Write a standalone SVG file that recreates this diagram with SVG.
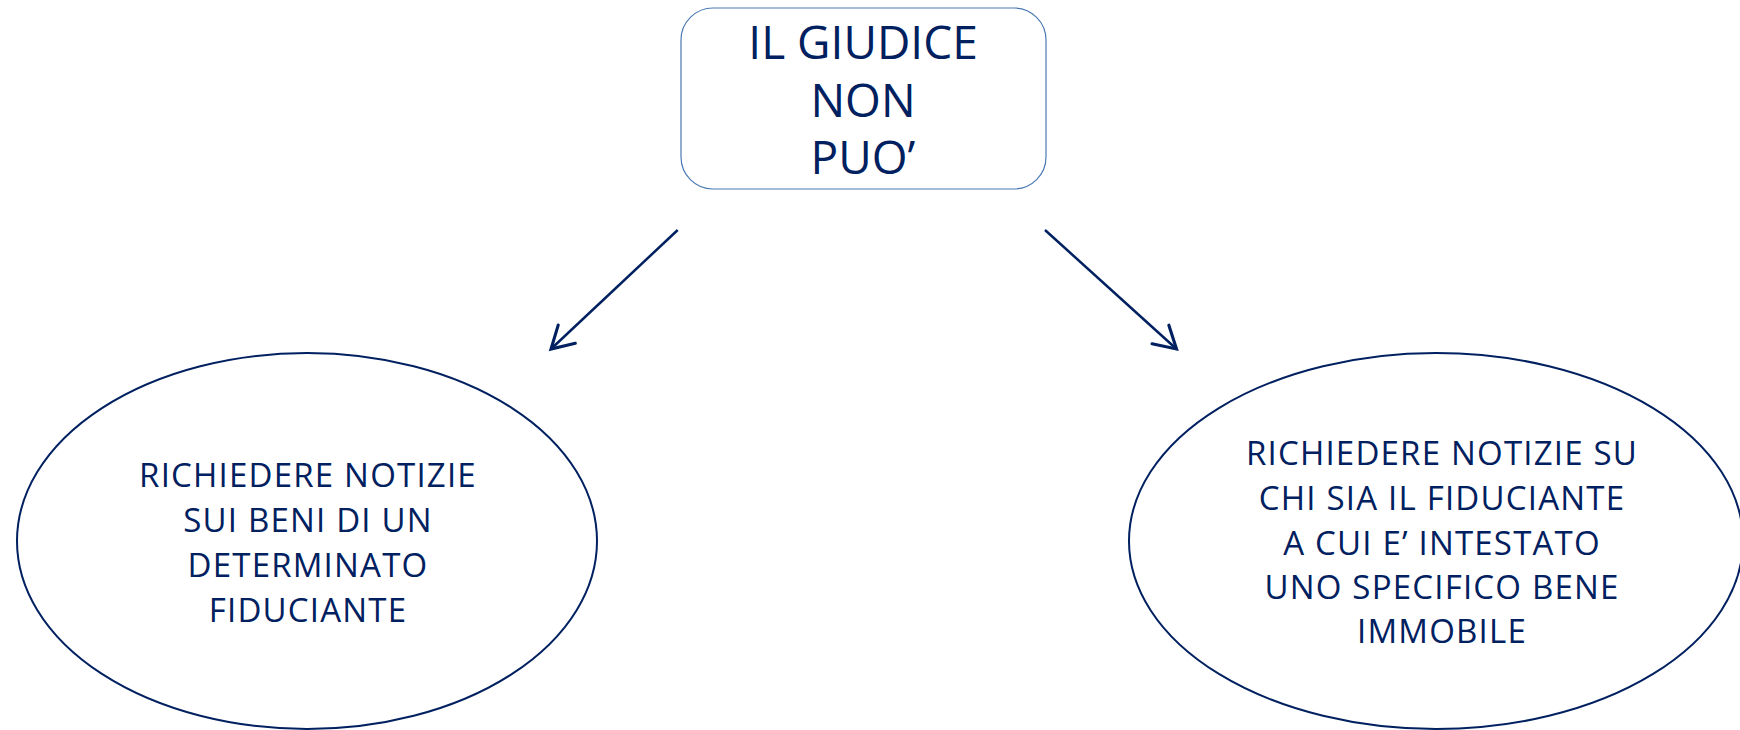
<svg xmlns="http://www.w3.org/2000/svg" width="1740" height="730" viewBox="0 0 1740 730">
  <defs>
    <style>
      .txt { font-family: "Open Sans", "Noto Sans", "Liberation Sans", sans-serif; fill: #002060; text-anchor: middle; }
      .big { font-size: 46px; }
      .mid { font-size: 33px; letter-spacing: 1.2px; }
      .oval { fill: #ffffff; stroke: #002060; stroke-width: 2; }
      .box { fill: #ffffff; stroke: #4a7ab4; stroke-width: 1.2; }
      .conn { stroke: #002060; stroke-width: 2.5; fill: none; }
    </style>
    <marker id="arrow" markerUnits="userSpaceOnUse" markerWidth="30" markerHeight="30" viewBox="-20 -12 24 24" refX="0" refY="0" orient="auto">
      <path d="M -17.3 -10 L 0 0 L -17.3 10" fill="none" stroke="#002060" stroke-width="2.5" stroke-linecap="round" stroke-linejoin="miter"/>
    </marker>
  </defs>
  <rect x="0" y="0" width="1740" height="730" fill="#ffffff"/>

  <g id="node-giudice">
    <rect class="box" x="681" y="8" width="365" height="181" rx="32" ry="32"/>
    <text class="txt big" x="863" y="59">IL GIUDICE</text>
    <text class="txt big" x="863" y="117">NON</text>
    <text class="txt big" x="863" y="174">PUO’</text>
  </g>

  <g id="node-left">
    <ellipse class="oval" cx="307" cy="541" rx="290" ry="188"/>
    <text class="txt mid" x="308" y="487">RICHIEDERE NOTIZIE</text>
    <text class="txt mid" x="308" y="532">SUI BENI DI UN</text>
    <text class="txt mid" x="308" y="577">DETERMINATO</text>
    <text class="txt mid" x="308" y="622">FIDUCIANTE</text>
  </g>

  <g id="node-right">
    <ellipse class="oval" cx="1436" cy="541" rx="307" ry="188"/>
    <text class="txt mid" x="1442" y="465">RICHIEDERE NOTIZIE SU</text>
    <text class="txt mid" x="1442" y="510">CHI SIA IL FIDUCIANTE</text>
    <text class="txt mid" x="1442" y="555">A CUI E’ INTESTATO</text>
    <text class="txt mid" x="1442" y="599">UNO SPECIFICO BENE</text>
    <text class="txt mid" x="1442" y="643">IMMOBILE</text>
  </g>

  <g id="connectors">
    <line class="conn" x1="677.7" y1="230" x2="551" y2="349" marker-end="url(#arrow)"/>
    <line class="conn" x1="1045" y1="230" x2="1176.5" y2="349" marker-end="url(#arrow)"/>
  </g>
</svg>
